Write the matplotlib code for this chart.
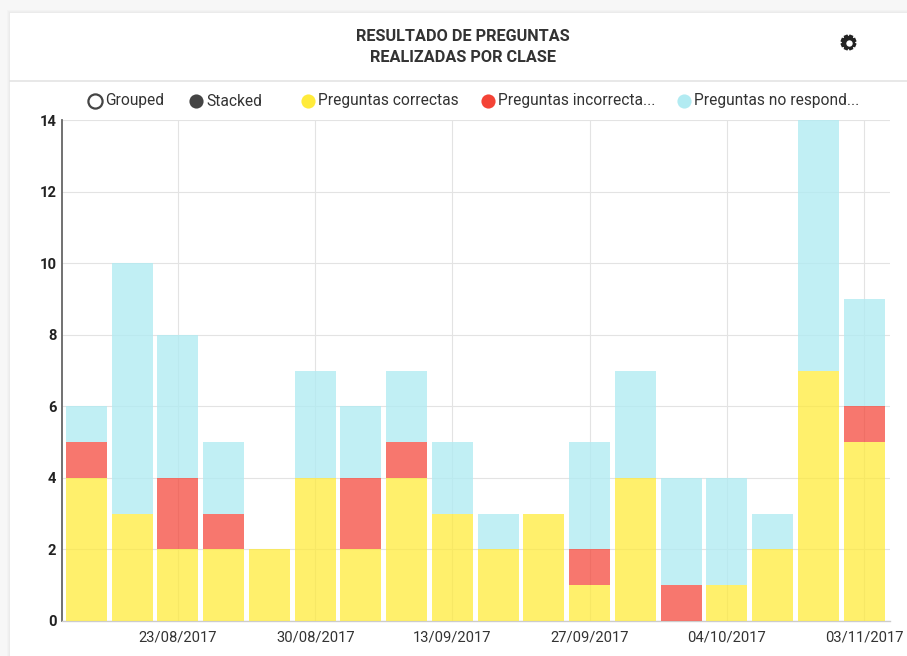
import matplotlib
matplotlib.use("Agg")
import matplotlib.pyplot as plt
import numpy as np
from matplotlib.patches import Rectangle, Polygon
from matplotlib.lines import Line2D

W, H = 907, 656
title_lines = "RESULTADO DE PREGUNTAS\nREALIZADAS POR CLASE"
correct = [4, 3, 2, 2, 2, 4, 2, 4, 3, 2, 3, 1, 4, 0, 1, 2, 7, 5]
incorrect = [1, 0, 2, 1, 0, 0, 2, 1, 0, 0, 0, 1, 0, 1, 0, 0, 0, 1]
unanswered = [1, 7, 4, 2, 0, 3, 2, 2, 2, 1, 0, 3, 3, 3, 3, 1, 7, 3]
tick_positions = [2, 5, 8, 11, 14, 17]
tick_labels = ["23/08/2017", "30/08/2017", "13/09/2017", "27/09/2017", "04/10/2017", "03/11/2017"]
y_ticks = [0, 2, 4, 6, 8, 10, 12, 14]
series_names = ["Preguntas correctas", "Preguntas incorrecta...", "Preguntas no respond..."]
mode_names = ["Grouped", "Stacked"]

plt.rcParams['font.family'] = ['Roboto', 'DejaVu Sans']
fig = plt.figure(figsize=(W / 100, H / 100), dpi=100, facecolor='#f7f7f7')
fx = lambda x: x / W
fy = lambda y: 1 - y / H

# card with soft shadow
for i, c in enumerate(['#f3f3f3', '#efefef', '#ebebeb']):
    off = 3 - i
    fig.add_artist(Rectangle((fx(10 - off), 0), (W - 10 + off) / W, fy(13 - off), transform=fig.transFigure,
                             fc=c, ec='none', zorder=0))
fig.add_artist(Rectangle((fx(10), 0), (W - 10) / W, fy(13), transform=fig.transFigure,
                         fc='white', ec='none', zorder=0.5))
fig.add_artist(Line2D([fx(10), 1], [fy(80.5), fy(80.5)], transform=fig.transFigure, color='#e4e4e4', lw=1.2, zorder=1))

fig.text(fx(463), fy(47), title_lines, ha='center', va='center', fontsize=11.7, fontweight='bold',
         color='#333333', linespacing=1.42)

# settings icon drawn as a gear outline
gx, gy, r_out, r_in = 848.5, 42.5, 8.2, 6.0
angles = np.linspace(0, 2 * np.pi, 8, endpoint=False) + np.pi / 8
pts = []
for a in angles:
    for da, r in [(-0.42, r_in), (-0.24, r_out), (0.24, r_out), (0.42, r_in)]:
        pts.append((fx(gx + r * np.cos(a + da)), fy(gy + r * np.sin(a + da))))
fig.add_artist(Polygon(pts, closed=True, transform=fig.transFigure, fc='#222222', ec='none', zorder=3))
hole = Line2D([fx(gx)], [fy(gy)], transform=fig.transFigure, marker='o', ms=4.6, mfc='white', mec='none', ls='none', zorder=4)
fig.add_artist(hole)

# legend controls
marker_y = fy(100.5)
text_y = fy(105.5)
def dot(x, fc, ec):
    fig.add_artist(Line2D([fx(x)], [marker_y], transform=fig.transFigure, marker='o', ms=10.2, mfc=fc,
                          mec=ec, mew=1.6 if fc == 'white' else 0, ls='none', zorder=3))
dot(94.5, 'white', '#444444')
dot(195.5, '#444444', '#444444')
dot(307.5, '#FFEB3B', '#FFEB3B')
dot(487.5, '#F44336', '#F44336')
dot(683.5, '#B2EBF2', '#B2EBF2')
for x, s in zip([105.5, 206.5], mode_names):
    fig.text(fx(x), text_y, s, ha='left', va='baseline', fontsize=11.2, color='#333333')
for x, s in zip([318.5, 497.5, 694.5], series_names):
    fig.text(fx(x), text_y, s, ha='left', va='baseline', fontsize=11.2, color='#333333')

# plot
ax = fig.add_axes([fx(62), fy(621), (890 - 62) / W, (621 - 120) / H], facecolor='none')
ax.set_zorder(2)
x = np.arange(len(correct))
c, i_, u = map(np.array, (correct, incorrect, unanswered))
width = 0.895
ax.bar(x, c, width, color='#FFEB3B', alpha=0.75, zorder=3)
ax.bar(x, i_, width, bottom=c, color='#F44336', alpha=0.72, zorder=3)
ax.bar(x, u, width, bottom=c + i_, color='#B2EBF2', alpha=0.8, zorder=3)
ax.set_xlim(-0.535, 17.565)
ax.set_ylim(0, 14)
ax.set_yticks(y_ticks)
ax.set_xticks(tick_positions)
ax.set_xticklabels(tick_labels, fontsize=10.6, color='#333333')
ax.set_yticklabels([str(v) for v in y_ticks], fontsize=10.6, fontweight='bold', color='#222222')
ax.tick_params(axis='both', length=0)
ax.tick_params(axis='x', pad=7)
ax.tick_params(axis='y', pad=4)
ax.grid(True, color='#e3e3e3', lw=0.8)
ax.set_axisbelow(True)
for s in ['top', 'right']:
    ax.spines[s].set_visible(False)
ax.spines['left'].set_color('#666666')
ax.spines['left'].set_linewidth(1.3)
ax.spines['bottom'].set_color('#cccccc')
ax.spines['bottom'].set_linewidth(1)

fig.savefig('out.png', dpi=100, facecolor=fig.get_facecolor())
